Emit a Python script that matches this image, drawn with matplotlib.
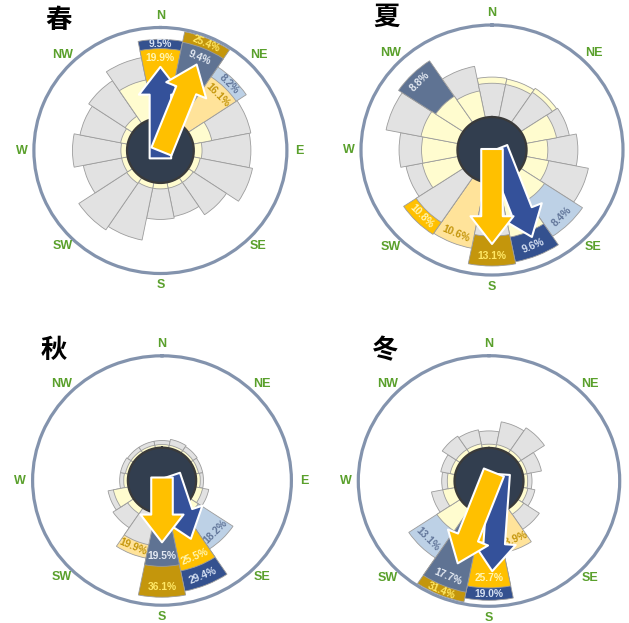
import numpy as np
import matplotlib
matplotlib.use("Agg")
import matplotlib.pyplot as plt

# ---------------- data ----------------
directions = ["N", "NNE", "NE", "ENE", "E", "ESE", "SE", "SSE",
              "S", "SSW", "SW", "WSW", "W", "WNW", "NW", "NNW"]
compass_labels = ["N", "NE", "E", "SE", "S", "SW", "W", "NW"]
season_names = ["春", "夏", "秋", "冬"]

# series A (yellow family) and series B (blue family), percent per direction
spring_a = [19.9, 25.4, 16.1, 5.3, 2.3, 2.0, 1.7, 1.7, 1.7, 1.7, 2.0, 1.7, 1.7, 2.0, 2.5, 11.3]
spring_b = [9.5, 9.4, 8.2, 6.9, 6.7, 7.1, 5.4, 4.2, 4.4, 7.1, 7.6, 5.3, 6.4, 5.7, 6.2, 7.5]
summer_a = [6.3, 6.2, 6.5, 4.7, 3.2, 3.5, 4.3, 8.8, 13.1, 10.6, 10.8, 5.5, 5.4, 5.7, 5.0, 4.3]
summer_b = [4.0, 4.0, 4.3, 5.0, 5.8, 7.2, 8.4, 9.6, 6.3, 0.0, 6.4, 6.0, 6.6, 8.3, 8.8, 6.2]
autumn_a = [1.3, 1.3, 1.3, 1.3, 1.7, 3.0, 3.9, 25.5, 36.1, 19.9, 3.0, 6.4, 1.7, 1.3, 1.3, 1.3]
autumn_b = [2.6, 3.3, 2.9, 2.6, 2.6, 4.8, 18.2, 29.4, 19.5, 12.0, 8.8, 7.4, 2.9, 2.9, 2.6, 2.6]
winter_a = [1.3, 1.4, 1.4, 1.4, 1.4, 1.7, 2.4, 13.9, 25.7, 31.4, 9.4, 4.2, 2.4, 1.7, 1.7, 1.7]
winter_b = [3.75, 6.0, 6.8, 4.0, 1.8, 2.6, 5.5, 0.0, 19.0, 17.7, 13.1, 5.1, 2.7, 3.1, 4.6, 4.2]

# mean-direction arrows: (direction deg clockwise from N, length)
spring_arrows_dir = [0.0, 21.5]      # [blue, gold]
spring_arrows_len = [93, 95]
summer_arrows_dir = [159.4, 180.0]
summer_arrows_len = [94, 95]
autumn_arrows_dir = [162.0, 180.0]
autumn_arrows_len = [66, 65]
winter_arrows_dir = [183.9, 200.9]
winter_arrows_len = [97, 97]

# ---------------- style ----------------
BASE = 33.0
RMAX = 125.0
A_FILL = ["#C4960C", "#FFC000", "#FFE39A"]
A_TXT = ["#FFE866", "#FFF5B0", "#C4960C"]
B_FILL = ["#34518F", "#5F7393", "#BDD1E6"]
B_TXT = ["#D5E0F2", "#E3E9F2", "#62769A"]
A_PLAIN = "#FFFCCF"
B_PLAIN = "#E2E2E2"
EDGE = "#9C9C9C"
HUB = "#323E4F"
RING = "#8393AD"
GREEN = "#5AA02C"
ARROW_B = "#34519A"
ARROW_A = "#FFC000"

W, H = 629, 623
fig = plt.figure(figsize=(W / 100, H / 100), dpi=100)

panels = [
    dict(a=spring_a, b=spring_b, la=90, lb=80, ad=spring_arrows_dir, al=spring_arrows_len,
         tails=[(0, -8), (1, -1)], box=(160.4, 150.5, 126.5, 123), title_xy=(58, 21)),
    dict(a=summer_a, b=summer_b, la=83, lb=81, ad=summer_arrows_dir, al=summer_arrows_len,
         tails=[(5, 1), (0, 1)], box=(492, 150, 131, 125), title_xy=(386, 17)),
    dict(a=autumn_a, b=autumn_b, la=84, lb=80, ad=autumn_arrows_dir, al=autumn_arrows_len,
         tails=[(7.5, 4.3), (0, 3)], box=(162, 480.5, 129.4, 124.7), title_xy=(54, 351)),
    dict(a=winter_a, b=winter_b, la=90, lb=86, ad=winter_arrows_dir, al=winter_arrows_len,
         tails=[(9.7, 6.8), (4.7, 8.5)], box=(489, 481, 130.7, 125.3), title_xy=(385, 351)),
]

n = len(directions)
theta = np.deg2rad(np.arange(n) * 360.0 / n)
width = 2 * np.pi / n


def rot_for(deg):
    deg = deg % 360
    if 90 < deg < 270:
        return 180 - deg
    return -deg


for name, p in zip(season_names, panels):
    cx, cy, rx, ry = p["box"]
    ax = fig.add_axes([(cx - rx) / W, (H - cy - ry) / H, 2 * rx / W, 2 * ry / H],
                      projection="polar")
    ax.set_aspect("auto")
    ax.set_theta_zero_location("N")
    ax.set_theta_direction(-1)
    ax.set_ylim(0, RMAX)
    ax.grid(False)
    ax.set_xticks([])
    ax.set_yticks([])
    ax.spines["polar"].set_color(RING)
    ax.spines["polar"].set_linewidth(2.3)

    a = np.array(p["a"], dtype=float)
    b = np.array(p["b"], dtype=float)
    ra = BASE + p["la"] * a / a.max()
    rb = BASE + p["lb"] * b / b.max()
    rank_a = list(np.argsort(-a)[:3])
    rank_b = list(np.argsort(-b)[:3])
    col_a = [A_FILL[rank_a.index(i)] if i in rank_a else A_PLAIN for i in range(n)]
    col_b = [B_FILL[rank_b.index(i)] if i in rank_b else B_PLAIN for i in range(n)]

    a_back = ra >= rb
    back_r = np.where(a_back, ra, rb)
    front_r = np.where(a_back, rb, ra)
    back_c = [col_a[i] if a_back[i] else col_b[i] for i in range(n)]
    front_c = [col_b[i] if a_back[i] else col_a[i] for i in range(n)]

    ax.bar(theta, back_r - BASE, width=width, bottom=BASE, color=back_c,
           edgecolor=EDGE, linewidth=0.6, zorder=2)
    ax.bar(theta, front_r - BASE, width=width, bottom=BASE, color=front_c,
           edgecolor=EDGE, linewidth=0.6, zorder=3)

    # hub
    tt = np.linspace(0, 2 * np.pi, 300)
    ax.fill(tt, np.full_like(tt, BASE), color=HUB, zorder=4, lw=0)
    ax.plot(tt, np.full_like(tt, BASE), color="#3A3A3A", lw=1.6, zorder=4)

    # percentage labels
    def put_label(i, vals, r_this, r_other, txtcol):
        outer = r_this[i]
        inner = r_other[i] if r_other[i] < outer else BASE
        rl = max(outer - 10, (outer + inner) / 2)
        ax.text(theta[i], rl, f"{vals[i]:.1f}%", rotation=rot_for(np.rad2deg(theta[i])),
                rotation_mode="anchor", ha="center", va="center", fontsize=7.4,
                fontweight="bold", color=txtcol, zorder=4.5,
                family=["Liberation Sans", "DejaVu Sans"])

    for k, i in enumerate(rank_a):
        put_label(i, a, ra, rb, A_TXT[k])
    for k, i in enumerate(rank_b):
        put_label(i, b, rb, ra, B_TXT[k])

    # arrows: blue first, gold on top
    for (d, L, tail, col) in zip(p["ad"], p["al"], p["tails"], [ARROW_B, ARROW_A]):
        tx, ty = tail
        hx = tx + L * np.sin(np.deg2rad(d))
        hy = ty + L * np.cos(np.deg2rad(d))
        th_t, r_t = np.arctan2(tx, ty), np.hypot(tx, ty)
        th_h, r_h = np.arctan2(hx, hy), np.hypot(hx, hy)
        ax.annotate("", xy=(th_h, r_h), xytext=(th_t, r_t), xycoords="data",
                    textcoords="data",
                    arrowprops=dict(arrowstyle="simple,head_length=20,head_width=31,tail_width=15.5",
                                    fc=col, ec="white", lw=1.5, shrinkA=0, shrinkB=0,
                                    mutation_scale=1),
                    zorder=6, annotation_clip=False)

    # compass labels
    for k, lab in enumerate(compass_labels):
        ax.text(np.deg2rad(45 * k), 137, lab, ha="center", va="center", fontsize=9,
                fontweight="bold", color=GREEN, clip_on=False,
                family=["Liberation Sans", "DejaVu Sans"])

    tx, ty = p["title_xy"]
    fig.text(tx / W, 1 - ty / H, name, ha="center", va="center", fontsize=19,
             fontweight="bold", family=["Noto Sans CJK SC"])

fig.savefig("out.png", dpi=100)
